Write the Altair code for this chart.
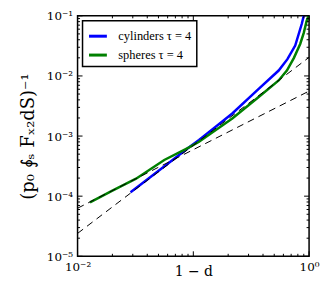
import altair as alt
import pandas as pd

# ---- data ----
cyl_x = [0.0287, 0.04, 0.0662, 0.092, 0.112, 0.16, 0.217, 0.367, 0.546, 0.65, 0.759, 0.864, 0.9]
cyl_y = [1.16e-4, 1.9e-4, 4.0e-4, 6.5e-4, 8.6e-4, 1.48e-3, 2.37e-3, 6.1e-3, 1.23e-2, 1.9e-2, 3.2e-2, 7.3e-2, 0.1]

sph_x = [0.0128, 0.02, 0.032, 0.0561, 0.092, 0.112, 0.217, 0.367, 0.546, 0.643, 0.74, 0.838, 0.9, 0.954, 0.99]
sph_y = [7.9e-5, 1.24e-4, 1.95e-4, 4.0e-4, 6.5e-4, 8.05e-4, 1.96e-3, 4.47e-3, 8.4e-3, 1.23e-2, 2.0e-2, 3.4e-2, 5.2e-2, 8.3e-2, 0.1]

dash_steep_x = [0.01, 1.0]
dash_steep_y = [2.4e-5, 0.0204]
dash_flat_x = [0.01, 1.0]
dash_flat_y = [6.3e-5, 0.0056]

series_names = ["cylinders \u03c4 = 4", "spheres \u03c4 = 4"]
series_colors = ["#0000ff", "#008000"]

x_label_values = [0.01, 1.0]
y_label_values = [1e-5, 1e-4, 1e-3, 1e-2, 1e-1]
x_major = [0.01, 0.1, 1.0]
x_minor = [0.02, 0.03, 0.04, 0.05, 0.06, 0.07, 0.08, 0.09,
           0.2, 0.3, 0.4, 0.5, 0.6, 0.7, 0.8, 0.9]
y_major = [1e-5, 1e-4, 1e-3, 1e-2, 1e-1]
y_minor = [k * d for d in [1e-5, 1e-4, 1e-3, 1e-2] for k in [2, 3, 4, 5, 6, 7, 8, 9]]

X_TITLE = "1 \u2212 d"
Y_TITLE = "(p\u2080 \u222e\u209b F\u2093\u2082dS)\u207b\u00b9"

# ---- layout ----
W, H = 233, 242
FONT = "DejaVu Serif"
MAJ, MIN = 5, 2.5

xs = alt.Scale(type="log", domain=[0.01, 1.0])
ys = alt.Scale(type="log", domain=[1e-5, 0.1])
label_expr = "'10' + ['\u207b\u2075','\u207b\u2074','\u207b\u00b3','\u207b\u00b2','\u207b\u00b9','\u2070'][round(log(datum.value)/LN10)+5]"


def X():
    return alt.X("x:Q", scale=xs, title=X_TITLE,
                 axis=alt.Axis(values=x_label_values, labelExpr=label_expr, domain=False,
                               ticks=False, grid=False, labelFont=FONT, labelFontSize=12,
                               labelColor="black", labelPadding=5, labelFlush=False,
                               labelOverlap=False, titleFont=FONT, titleFontSize=14,
                               titleFontWeight="normal", titleColor="black", titlePadding=-8))


def Y():
    return alt.Y("y:Q", scale=ys, title=Y_TITLE,
                 axis=alt.Axis(values=y_label_values, labelExpr=label_expr, domain=False,
                               ticks=False, grid=False, labelFont=FONT, labelFontSize=12,
                               labelColor="black", labelPadding=5, labelFlush=False,
                               labelOverlap=False, titleFont=FONT, titleFontSize=18,
                               titleFontWeight="normal", titleColor="black", titlePadding=9))


curves = pd.DataFrame({
    "x": cyl_x + sph_x,
    "y": cyl_y + sph_y,
    "series": [series_names[0]] * len(cyl_x) + [series_names[1]] * len(sph_x),
})
dashes = pd.DataFrame({
    "x": dash_steep_x + dash_flat_x,
    "y": dash_steep_y + dash_flat_y,
    "line": ["steep"] * len(dash_steep_x) + ["flat"] * len(dash_flat_x),
})

line_layer = alt.Chart(curves).mark_line(strokeWidth=2.5, clip=True).encode(
    x=X(), y=Y(),
    color=alt.Color("series:N",
                    scale=alt.Scale(domain=series_names, range=series_colors),
                    legend=alt.Legend(title=None, orient="top-left", offset=5,
                                      symbolType="stroke", symbolStrokeWidth=3,
                                      symbolSize=324, labelFont="Liberation Serif",
                                      labelFontSize=12.5,
                                      labelColor="black", strokeColor="black",
                                      fillColor="white", padding=5, rowPadding=2,
                                      labelOffset=10)),
)

dash_layer = alt.Chart(dashes).mark_line(color="black", strokeWidth=1, strokeDash=[7, 5],
                                          clip=True).encode(
    x=X(), y=Y(), detail="line:N")

layers = [line_layer, dash_layer]

for vals, L in [(x_major, MAJ), (x_minor, MIN)]:
    d = pd.DataFrame({"x": vals})
    layers.append(alt.Chart(d).mark_rule(color="black", strokeWidth=1).encode(
        x=X(), y=alt.value(H), y2=alt.value(H - L)))
    layers.append(alt.Chart(d).mark_rule(color="black", strokeWidth=1).encode(
        x=X(), y=alt.value(0), y2=alt.value(L)))

for vals, L in [(y_major, MAJ), (y_minor, MIN)]:
    d = pd.DataFrame({"y": vals})
    layers.append(alt.Chart(d).mark_rule(color="black", strokeWidth=1).encode(
        y=Y(), x=alt.value(0), x2=alt.value(L)))
    layers.append(alt.Chart(d).mark_rule(color="black", strokeWidth=1).encode(
        y=Y(), x=alt.value(W), x2=alt.value(W - L)))

chart = alt.layer(*layers).properties(
    width=W, height=H,
    autosize=alt.AutoSizeParams(type="none"),
    padding={"left": 70, "top": 7, "right": 12, "bottom": 24},
    background="white",
).configure_view(stroke="black", strokeWidth=1.5).configure_legend(strokeWidth=1.5)

chart.save("out.html", embed_options={"renderer": "svg", "actions": False})
